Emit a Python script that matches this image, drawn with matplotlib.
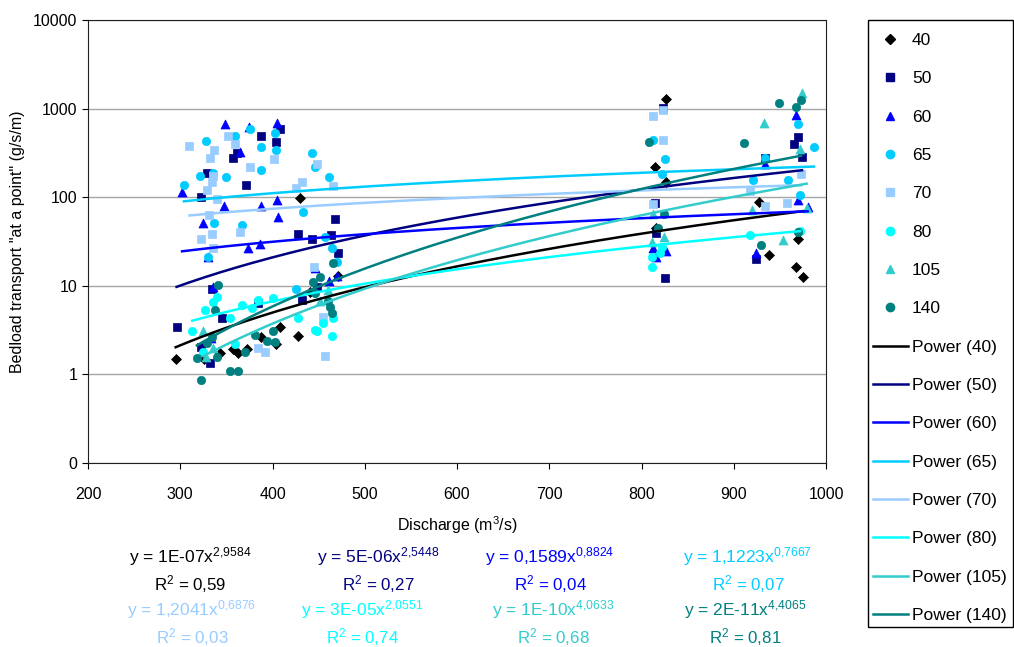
import numpy as np
import matplotlib.pyplot as plt
from matplotlib.lines import Line2D
from matplotlib.patches import Rectangle
from matplotlib.ticker import FixedLocator, FixedFormatter, NullLocator

plt.rcParams['font.family'] = ['Liberation Sans', 'DejaVu Sans']
plt.rcParams['mathtext.default'] = 'regular'

# discharge (m3/s) and bedload transport (g/s/m) per grain-size class
q_40 = [295, 326, 343, 357, 363, 372, 388, 404, 408, 428, 430, 441, 471,
        815, 827, 827, 816, 927, 938, 967, 975, 970]
b_40 = [1.48, 1.48, 1.73, 1.96, 1.74, 1.96, 2.63, 2.18, 3.4, 2.7, 98, 8.5, 13,
        219, 1300, 147, 44.5, 88, 22.5, 16.3, 12.7, 34]

q_50 = [296, 323, 329, 357, 361, 371, 387, 404, 408, 332, 345, 334, 384, 323,
        428, 443, 463, 468, 471, 448, 432, 823, 815, 825, 816, 970, 965, 974, 934, 924]
b_50 = [3.4, 100, 190, 280, 315, 139, 486, 419, 582, 1.33, 4.3, 9.3, 6.4, 2.03,
        38, 34, 37, 57, 23.2, 9.7, 7, 1011, 86, 12.4, 39, 473, 395, 283, 276, 20.3]

q_60 = [302, 349, 375, 405, 365, 347, 388, 405, 406, 325, 373, 386, 330, 335, 333,
        446, 461, 470, 827, 816, 812, 968, 934, 970, 980, 924]
b_60 = [113, 664, 614, 686, 320, 80, 80, 93, 60, 50.6, 27, 30, 21, 9.8, 2.6,
        15.7, 11.4, 13, 25, 20.9, 26.4, 850, 235, 92, 77, 23.2]

q_65 = [304, 328, 359, 376, 403, 387, 404, 388, 350, 321, 336, 337, 367, 330,
        443, 446, 461, 433, 426, 457, 465, 470, 813, 826, 822, 970, 987, 934, 921, 959, 972]
b_65 = [139, 432, 486, 590, 525, 364, 338, 201, 168, 172, 190, 50.6, 48, 21,
        315, 218, 168, 67.5, 9.1, 35.5, 27, 18.5, 437, 267, 183, 664, 364, 280, 155, 158, 107]

q_70 = [310, 352, 359, 337, 332, 336, 334, 329, 376, 402, 331, 334, 365, 323, 340, 336,
        384, 392, 448, 432, 426, 466, 445, 457, 455, 812, 823, 823, 812, 973, 918, 934, 958]
b_70 = [374, 486, 395, 338, 280, 172, 147, 122, 218, 267, 62.6, 38, 41, 34, 94.5, 27,
        2.0, 1.77, 235, 147, 128, 135, 16.5, 1.6, 4.4, 835, 954, 437, 84, 185, 116, 80, 86]

q_80 = [313, 327, 336, 340, 354, 367, 378, 384, 401, 359, 325, 428, 448, 455,
        464, 466, 446, 811, 811, 822, 820, 918, 972]
b_80 = [3.1, 5.3, 6.5, 7.45, 4.3, 6.0, 5.55, 7.0, 7.2, 2.18, 1.78, 4.3, 3.1, 3.8,
        2.7, 4.3, 3.15, 21, 16.2, 27.3, 23.2, 37.5, 41.5]

q_105 = [328, 336, 325, 452, 460, 812, 811, 824, 974, 933, 972, 920, 979, 953]
b_105 = [1.57, 2.0, 3.1, 6.8, 8.9, 65, 31, 35.5, 1500, 686, 346, 72, 76.5, 33]

q_140 = [323, 354, 363, 341, 338, 334, 318, 340, 370, 381, 394, 401, 403, 329,
         444, 452, 446, 466, 460, 462, 464, 808, 824, 818, 949, 967, 973, 911, 929, 970]
b_140 = [0.855, 1.09, 1.09, 10.1, 5.3, 2.63, 1.53, 1.57, 1.78, 2.75, 2.4, 3.1, 2.3, 2.24,
         11, 12.7, 8.2, 17.9, 6.8, 5.75, 4.9, 419, 64, 44.5, 1146, 1033, 1238, 405, 29, 40.5]

labels = ['40', '50', '60', '65', '70', '80', '105', '140']
q_all = [q_40, q_50, q_60, q_65, q_70, q_80, q_105, q_140]
b_all = [b_40, b_50, b_60, b_65, b_70, b_80, b_105, b_140]

# power trendlines y = a * x^b
coef = [1e-7, 5e-6, 0.1589, 1.1223, 1.2041, 3e-5, 1e-10, 2e-11]
coef_txt = ['1E-07', '5E-06', '0,1589', '1,1223', '1,2041', '3E-05', '1E-10', '2E-11']
expo = [2.9584, 2.5448, 0.8824, 0.7667, 0.6876, 2.0551, 4.0633, 4.4065]
r2 = [0.59, 0.27, 0.04, 0.07, 0.03, 0.74, 0.68, 0.81]

colors = ['#000000', '#000080', '#0000FF', '#00CCFF', '#99CCFF', '#00FFFF', '#33CCCC', '#008080']
markers = ['D', 's', '^', 'o', 's', 'o', '^', 'o']
msize = [26, 28, 42, 36, 28, 36, 42, 36]

W, H = 1014, 647
fig = plt.figure(figsize=(W / 100, H / 100), dpi=100)
ax = fig.add_axes([88 / W, 1 - 463 / H, (826 - 88) / W, (463 - 20) / H])

ax.set_yscale('log')
ax.set_xlim(200, 1000)
ax.set_ylim(0.1, 10000)
ax.set_xticks(range(200, 1001, 100))
ax.yaxis.set_major_locator(FixedLocator([0.1, 1, 10, 100, 1000, 10000]))
ax.yaxis.set_major_formatter(FixedFormatter(['0', '1', '10', '100', '1000', '10000']))
ax.yaxis.set_minor_locator(NullLocator())
ax.tick_params(direction='out', length=4, labelsize=11.5, color='black')
ax.tick_params(axis='x', pad=13)
ax.grid(axis='y', color='#a6a6a6', lw=1)
ax.set_axisbelow(True)
for s in ax.spines.values():
    s.set_color('#202020')

for q, b, c, m, sz in zip(q_all, b_all, colors, markers, msize):
    ax.scatter(q, b, marker=m, s=sz, color=c, edgecolors=c, linewidths=0.5, zorder=3)

trend = []
for q, a, e, c in zip(q_all, coef, expo, colors):
    xs = np.linspace(min(q), max(q), 200)
    ln, = ax.plot(xs, a * xs ** e, color=c, lw=1.8, zorder=4)
    trend.append(ln)

ax.set_xlabel('Discharge (m$^3$/s)', fontsize=11.5, labelpad=9)
ax.set_ylabel('Bedload transport "at a point" (g/s/m)', fontsize=11.5, labelpad=6)

# legend: markers first, then the trendlines, inside a plain box
handles = []
for c, m in zip(colors, markers):
    handles.append(Line2D([], [], ls='none', marker=m, color=c, ms=6 if m != 'D' else 5))
handles += trend
names = labels + ['Power (%s)' % l for l in labels]
fig.legend(handles, names, loc='upper left', bbox_to_anchor=(873 / W, 1 - 33 / H),
           frameon=False, fontsize=12.5, labelspacing=1.335, handlelength=2.0,
           handletextpad=0.25, borderpad=0, borderaxespad=0)
fig.patches.append(Rectangle((868 / W, 1 - 627 / H), (1013 - 868) / W, (627 - 20) / H,
                             transform=fig.transFigure, fill=False, ec='black', lw=1))

# trendline equations below the chart
eq_x = [190, 378, 550, 748, 192, 362, 553, 745]
eq_y = [557, 557, 557, 557, 610, 610, 610, 610]
for i in range(8):
    ex = ('%.4f' % expo[i]).replace('.', '{,}')
    fig.text(eq_x[i] / W, 1 - eq_y[i] / H, 'y = %sx$^{%s}$' % (coef_txt[i], ex),
             color=colors[i], ha='center', va='center', fontsize=12.5)
    fig.text(eq_x[i] / W, 1 - (eq_y[i] + 27) / H,
             'R$^2$ = ' + ('%.2f' % r2[i]).replace('.', ','),
             color=colors[i], ha='center', va='center', fontsize=12.2)

fig.savefig('out.png', dpi=100)
